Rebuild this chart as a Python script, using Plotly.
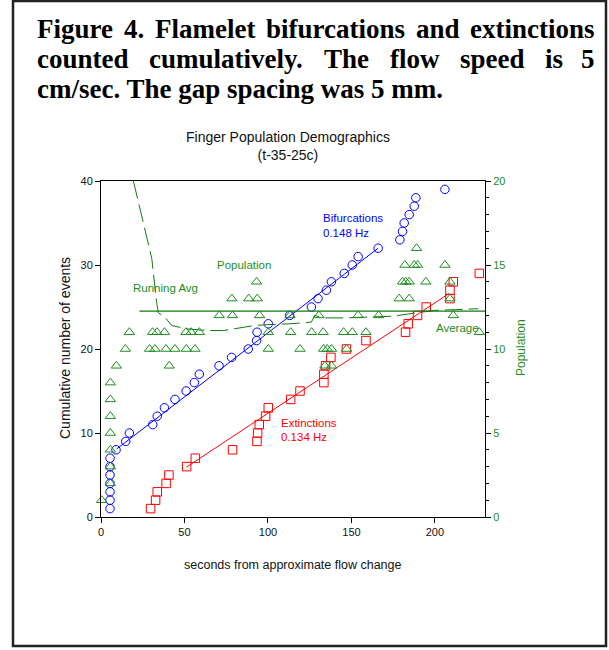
import plotly.graph_objects as go

# ---------------- data ----------------
bif_x = [5.4, 5.4, 5.4, 5.4, 5.4, 5.4, 5.4, 9.0, 14.8, 17.0, 31.0, 33.7, 38.0, 44.3,
         51.0, 55.9, 58.9, 70.7, 78.2, 88.2, 93.2, 93.5, 100.2, 113.0, 126.0, 130.0,
         135.0, 138.0, 145.7, 150.5, 154.0, 166.0, 179.0, 180.6, 181.6, 184.6, 187.6,
         188.6, 206.0]
bif_y = [1, 2, 3, 4, 5, 6, 7, 8, 9, 10, 11, 12, 13, 14, 15, 16, 17, 18, 19, 20, 21, 22,
         23, 24, 25, 26, 27, 28, 29, 30, 31, 32, 33, 34, 35, 36, 37, 38, 39]

ext_x = [29.7, 32.7, 33.7, 39.0, 40.7, 51.3, 56.5, 78.8, 93.4, 93.8, 94.8, 98.6, 100.2,
         113.6, 119.2, 133.5, 133.5, 134.5, 137.7, 147.0, 158.7, 182.4, 184.0, 189.6,
         194.8, 209.0, 209.0, 211.0, 226.6]
ext_y = [1, 2, 3, 4, 5, 6, 7, 8, 9, 10, 11, 12, 13, 14, 15, 16, 17, 18, 19, 20, 21, 22,
         23, 24, 25, 26, 27, 28, 29]

pop_x = [0.4, 5.6, 5.6, 5.6, 5.6, 5.6, 5.6, 5.6, 9.2, 14.6, 17.0, 29.1, 30.9, 32.3, 33.5,
         38.0, 38.9, 40.9, 44.3, 50.9, 51.1, 54.0, 56.3, 58.9, 70.8, 78.4, 78.8, 88.5,
         93.2, 93.6, 95.0, 100.2, 100.2, 113.2, 113.6, 119.2, 126.2, 130.5, 133.1, 133.3,
         134.1, 135.5, 138.1, 138.1, 145.3, 147.1, 150.5, 154.0, 158.7, 166.3, 178.6,
         180.6, 182.0, 182.6, 184.6, 184.6, 187.6, 189.0, 189.6, 194.6, 206.0, 209.0,
         209.0, 211.0, 226.6]
pop_y = [1, 2, 3, 4, 5, 6, 7, 8, 9, 10, 11, 10, 11, 10, 11, 11, 10, 9, 10, 11, 10, 11, 10,
         11, 12, 13, 12, 13, 14, 13, 12, 11, 10, 12, 11, 10, 11, 12, 11, 10, 9, 10, 9, 10,
         11, 10, 11, 12, 11, 12, 13, 14, 15, 14, 13, 14, 15, 16, 15, 14, 15, 14, 13, 12, 11]

run_x = [19.4, 23.4, 28.3, 30.4, 33.4, 34.4, 38.3, 42.3, 51.3, 63.3, 73.3, 92.2, 100.0,
         113.0, 126.0, 128.0, 133.0, 145.0, 160.0, 175.0, 185.0, 200.0, 215.0, 226.0]
run_y = [20.0, 18.3, 16.1, 15.4, 12.7, 12.15, 11.9, 11.4, 11.2, 11.1, 11.1, 11.4, 11.45,
         11.5, 11.6, 12.0, 11.85, 11.85, 11.9, 11.95, 12.1, 12.3, 12.35, 12.4]

avg_x = [23.0, 230.0]
avg_y = [12.25, 12.25]

bif_fit_x = [9.4, 166.0]
bif_fit_y = [8.1, 32.0]
ext_fit_x = [51.3, 208.4]
ext_fit_y = [5.95, 26.6]

x_ticks = [0, 50, 100, 150, 200]
y_ticks = [0, 10, 20, 30, 40]
y2_ticks = [0, 5, 10, 15, 20]

# ---------------- layout helpers ----------------
W, H = 609, 650
ML, MR, MT, MB = 101, 124, 181, 133
PW, PH = W - ML - MR, H - MT - MB


def px(x):
    return (x - ML) / PW


def py(y):
    return (H - MB - y) / PH


BLUE = "#0000FF"
RED = "#FF0000"
GREEN = "#1E8C1E"
DGREEN = "#107A10"
SANS = "Liberation Sans, Arial, sans-serif"
SERIF = "Liberation Serif, Times New Roman, serif"

fig = go.Figure()

fig.add_trace(go.Scatter(x=bif_fit_x, y=bif_fit_y, mode="lines",
                         line=dict(color=BLUE, width=1), showlegend=False))
fig.add_trace(go.Scatter(x=ext_fit_x, y=ext_fit_y, mode="lines",
                         line=dict(color=RED, width=1), showlegend=False))
fig.add_trace(go.Scatter(x=run_x, y=run_y, mode="lines", yaxis="y2",
                         line=dict(color=DGREEN, width=1, dash="18px,6px"),
                         showlegend=False))
fig.add_trace(go.Scatter(x=avg_x, y=avg_y, mode="lines", yaxis="y2",
                         line=dict(color=DGREEN, width=1.3), showlegend=False))
fig.add_trace(go.Scatter(x=pop_x, y=pop_y, mode="markers", yaxis="y2", cliponaxis=False,
                         marker=dict(symbol="triangle-up-open", size=9, color=GREEN,
                                     line=dict(width=1)), showlegend=False))
fig.add_trace(go.Scatter(x=bif_x, y=bif_y, mode="markers", cliponaxis=False,
                         marker=dict(symbol="circle-open", size=8.5, color=BLUE,
                                     line=dict(width=1)), showlegend=False))
fig.add_trace(go.Scatter(x=ext_x, y=ext_y, mode="markers", cliponaxis=False,
                         marker=dict(symbol="square-open", size=8.5, color=RED,
                                     line=dict(width=1)), showlegend=False))

ann = []


def label(text, x, y, size, color, xanchor="left", family=SANS, bold=False):
    t = f"<b>{text}</b>" if bold else text
    ann.append(dict(text=t, x=px(x), y=py(y), xref="paper", yref="paper",
                    xanchor=xanchor, yanchor="middle", showarrow=False,
                    font=dict(family=family, size=size, color=color)))


# caption (justified by word placement)
line1 = [("Figure", 35), ("4.", 122), ("Flamelet", 153), ("bifurcations", 264),
         ("and", 414), ("extinctions", 597)]
line2 = [("counted", 35), ("cumulatively.", 146.5), ("The", 322), ("flow", 387.5),
         ("speed", 457.5), ("is", 542.5), ("5", 597)]
for i, (w, x) in enumerate(line1):
    label(w, x, 29, 27, "#000", family=SERIF, bold=True,
          xanchor="right" if i == len(line1) - 1 else "left")
for i, (w, x) in enumerate(line2):
    label(w, x, 59, 27, "#000", family=SERIF, bold=True,
          xanchor="right" if i == len(line2) - 1 else "left")
label("cm/sec. The gap spacing was 5 mm.", 35, 89, 27, "#000", family=SERIF, bold=True)

# chart title (two lines)
label("Finger Population Demographics<br>(t-35-25c)", 288, 146, 14, "#111",
      xanchor="center")

# in-chart labels
label("Bifurcations", 321, 218, 11.5, BLUE)
label("0.148 Hz", 321, 233, 11.5, BLUE)
label("Extinctions", 279, 423, 11.5, RED)
label("0.134 Hz", 279, 437, 11.5, RED)
label("Population", 215, 265, 11.5, GREEN)
label("Running Avg", 131, 288, 11.5, GREEN)
label("Average", 434, 328, 11.5, GREEN)

# axis titles
label("seconds from approximate flow change", 293, 565, 12.5, "#111", xanchor="center")
ann.append(dict(text="Cumulative number of events", x=px(65), y=py(348), xref="paper",
                yref="paper", xanchor="center", yanchor="middle", textangle=-90,
                showarrow=False, font=dict(family=SANS, size=14, color="#111")))
ann.append(dict(text="Population", x=px(521), y=py(348), xref="paper",
                yref="paper", xanchor="center", yanchor="middle", textangle=-90,
                showarrow=False, font=dict(family=SANS, size=12, color=GREEN)))

shapes = [dict(type="rect", xref="paper", yref="paper",
               x0=px(13), x1=px(606), y0=py(646), y1=py(1),
               line=dict(color="#222", width=2.5), fillcolor="rgba(0,0,0,0)")]

fig.update_layout(
    width=W, height=H, autosize=False,
    margin=dict(l=ML, r=MR, t=MT, b=MB, pad=0),
    paper_bgcolor="white", plot_bgcolor="white",
    font=dict(family=SANS, size=11, color="#111"),
    annotations=ann, shapes=shapes, showlegend=False,
    xaxis=dict(range=[0, 230], tickvals=x_ticks, ticks="outside", ticklen=5,
               tickcolor="#000", showline=True, linecolor="#000", linewidth=1,
               mirror=True, showgrid=False, zeroline=False,
               tickfont=dict(size=11, color="#111")),
    yaxis=dict(range=[0, 40], tickvals=y_ticks, ticks="outside", ticklen=5,
               tickcolor="#000", showline=True, linecolor="#000", linewidth=1,
               showgrid=False, zeroline=False, tickfont=dict(size=11, color="#111")),
    yaxis2=dict(range=[0, 20], tickvals=y2_ticks, overlaying="y", side="right",
                ticks="outside", ticklen=5, tickcolor="#000", showline=True,
                linecolor="#000", linewidth=1, showgrid=False, zeroline=False,
                tickfont=dict(size=11, color=GREEN),
                minor=dict(dtick=1, ticks="outside", ticklen=3, tickcolor="#000")),
)

fig.write_html("out.html", config={"displayModeBar": False},
               post_script="document.body.style.margin='0px';"
                           "document.body.style.overflow='hidden';")
